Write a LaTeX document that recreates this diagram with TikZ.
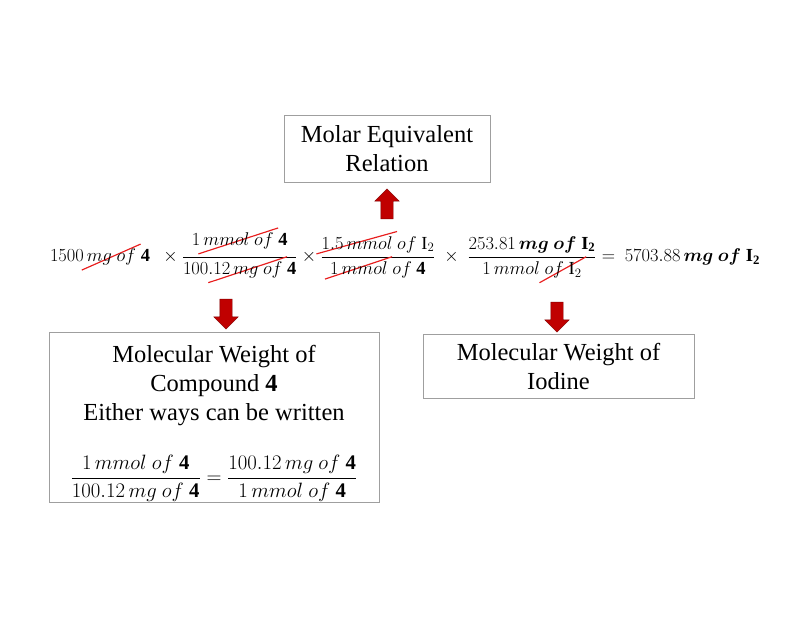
\documentclass[tikz,border=0pt]{standalone}
\usepackage{amsmath}
\usepackage{bm}
\usepackage{graphicx}
\usepackage{fontspec}
\setmainfont{Liberation Serif}
\usetikzlibrary{shapes.arrows}
\definecolor{arrowred}{HTML}{C00000}
\definecolor{arrowedge}{HTML}{7F0000}
\definecolor{strikered}{HTML}{E81E1E}
% red strike-through of a math term
\newsavebox{\rxbox}
\newcommand{\redx}[1]{\sbox{\rxbox}{$#1$}%
    \pgfmathsetmacro{\rxw}{\the\wd\rxbox+9}%
    \pgfmathsetmacro{\rxh}{\the\ht\rxbox+\the\dp\rxbox+9}%
    \pgfmathsetmacro{\rxl}{veclen(\rxw,\rxh)}%
    \pgfmathsetmacro{\rxa}{atan2(\rxh,\rxw)}%
    \rlap{\kern-5pt\raisebox{-\dp\rxbox}{\raisebox{-5pt}{\smash{\rotatebox[origin=lb]{\rxa}{\textcolor{strikered}{\rule{\rxl pt}{1.1pt}}}}}}}%
    \usebox{\rxbox}}
\begin{document}
\begin{tikzpicture}[x = 1pt, y = 1pt,
        box/.style={rectangle, draw=gray!75, line width=0.8pt, align=center,
                    font=\fontsize{24.5}{29}\selectfont, inner sep=0pt},
        blockarrow/.style={single arrow, draw=arrowedge, fill=arrowred, inner sep=6pt,
                    minimum height=30, single arrow head extend=6}
]
    \useasboundingbox (0,0) rectangle (800,-640);
    \node[box, minimum width=206, minimum height=67] (molar) at (387,-148.5)
        {Molar Equivalent\\Relation};
    \node[font=\fontsize{17.28}{20}\selectfont, inner sep=0pt, scale=1.067, transform shape] (eq) at (405,-258)
        {$1500\,\redx{mg\ of}\ \mathbf{4}\ \ \times \dfrac{1\,\redx{mmol\ of}\ \mathbf{4}}{100.\redx{12\,mg\ of}\ \mathbf{4}}
        \times \dfrac{\redx{1.5\,mmol}\ of\ \mathrm{I}_2}{\redx{1\,mmol}\ of\ \mathbf{4}}
        \ \times\ \dfrac{253.81\,\bm{mg\ of}\ \mathbf{I_2}}{1\,mmol\ \redx{of\ \mathrm{I}_2}}
        =\ 5703.88\,\bm{mg\ of}\ \mathbf{I_2}$};
    \node[box, minimum width=330, minimum height=170] (mwc) at (214,-417)
        {\rule{0pt}{30pt}Molecular Weight of\\Compound \textbf{4}\\Either ways can be written\\[29pt]
        \fontsize{20.74}{23}\selectfont
        $\dfrac{1\,mmol\ of\ \mathbf{4}}{100.12\,mg\ of\ \mathbf{4}} = \dfrac{100.12\,mg\ of\ \mathbf{4}}{1\,mmol\ of\ \mathbf{4}}$};
    \node[box, minimum width=271, minimum height=64] (mwi) at (558.5,-366)
        {Molecular Weight of\\Iodine};
    \node[blockarrow, shape border rotate=90] (upA) at (387,-207) {};
    \node[blockarrow, shape border rotate=270] (downC) at (226,-311) {};
    \node[blockarrow, shape border rotate=270] (downI) at (557,-314) {};
\end{tikzpicture}
\end{document}
